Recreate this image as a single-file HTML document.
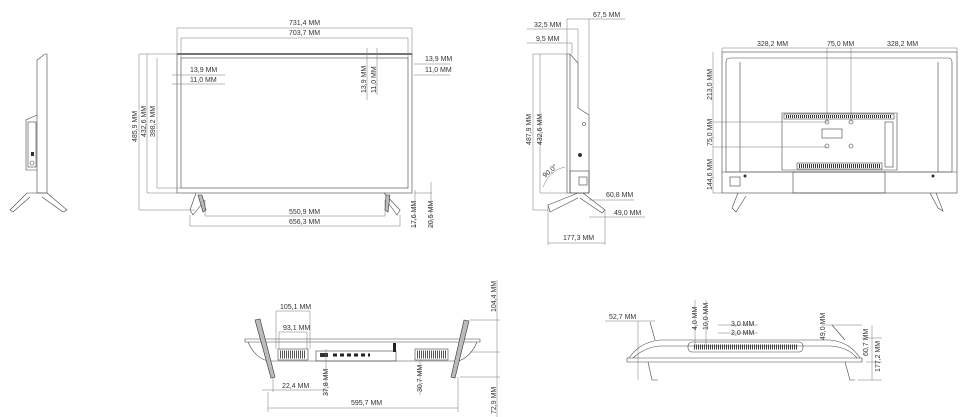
<!DOCTYPE html>
<html><head><meta charset="utf-8"><style>
html,body{margin:0;padding:0;background:#fff;width:980px;height:417px;overflow:hidden}
svg{display:block}
text{font-family:"Liberation Sans Narrow","Liberation Sans",sans-serif;font-size:7px;fill:#333}
.l{stroke:#444;stroke-width:.6;fill:none}
.t{stroke:#222;stroke-width:1.2;fill:none}
.d{stroke:#777;stroke-width:.5;fill:none}
.g{stroke:#333;stroke-width:.6;fill:#bbb}
</style></head><body>
<svg width="980" height="417" viewBox="0 0 980 417" xmlns="http://www.w3.org/2000/svg">
<!-- left side view -->
<path class="l" d="M37,60 L45,54 L47,54 L47,193 L37,193 Z"/>
<path class="l" d="M37,115 L26,120 L26,170 L37,170"/>
<rect class="l" x="28" y="122" width="8" height="45"/>
<rect x="31" y="152" width="3" height="4" fill="#333"/>
<circle class="l" cx="32" cy="163" r="2"/>
<path class="l" d="M27,193 L10,210 L13,212 L30,197 M47,193 L67,210 L63,212 L42,197"/>
<line class="l" x1="27" y1="193" x2="47" y2="193"/>

<!-- front view -->
<rect class="l" x="177" y="54" width="235" height="139"/>
<line class="t" x1="177" y1="54" x2="412" y2="54"/>
<rect class="l" x="181" y="58" width="227" height="130"/>
<path class="l" d="M196,193 L190,210 L193,215 L205,200 M384,193 L400,210 L397,215 L386,200"/>
<path class="g" d="M198,195 L202,195 L206,210 L203,212 Z M386,195 L390,195 L388,212 L385,210 Z"/>
<path class="d" d="M177,28 L412,28 M177,28 L177,54 M412,28 L412,54 M181,38 L408,38 M181,38 L181,58 M408,38 L408,58"/>
<text x="289" y="25">731,4 MM</text><text x="289" y="35">703,7 MM</text>
<path class="d" d="M139,54 L139,210 M139,54 L177,54 M139,210 L195,210 M147,54 L147,193 M147,193 L177,193 M157,58 L157,188 M157,188 L181,188"/>
<text transform="translate(137,142) rotate(-90)">485,9 MM</text>
<text transform="translate(146,137) rotate(-90)">432,6 MM</text>
<text transform="translate(155,137) rotate(-90)">398,2 MM</text>
<path class="d" d="M172,75 L225,75 M172,84 L225,84"/>
<text x="190" y="72">13,9 MM</text><text x="190" y="82">11,0 MM</text>
<path class="d" d="M414,64 L450,64 M414,75 L450,75"/>
<text x="425" y="61">13,9 MM</text><text x="425" y="72">11,0 MM</text>
<path class="d" d="M367,48 L367,100 M377,48 L377,95"/>
<text transform="translate(366,93) rotate(-90)">13,9 MM</text>
<text transform="translate(376,93) rotate(-90)">11,0 MM</text>
<path class="d" d="M205,216 L385,216 M205,200 L205,216 M385,200 L385,216 M190,226 L400,226 M190,215 L190,226 M400,215 L400,226"/>
<text x="289" y="214">550,9 MM</text><text x="289" y="224">656,3 MM</text>
<path class="d" d="M414,193 L432,193 M415,190 L415,228 M431,182 L431,228"/>
<text transform="translate(416,228) rotate(-90)">17,6 MM</text>
<text transform="translate(433,228) rotate(-90)">20,5 MM</text>

<!-- side view right -->
<path class="l" d="M567,54 L570,54 L578,63 L578,108 L589,115 L589,193 L567,193 Z"/>
<line class="l" x1="570" y1="54" x2="570" y2="193"/>
<rect class="l" x="570" y="171" width="19" height="22"/>
<rect class="l" x="579" y="177" width="8" height="8"/>
<circle class="l" cx="584" cy="124" r="1.5"/><circle cx="580" cy="155" r="2" fill="#333"/>
<path class="l" d="M578,193 L548,205 L550,212 L578,198 M583,193 L605,210 L602,213 L580,198"/>
<path class="d" d="M567,19 L625,19 M567,19 L567,54 M589,19 L589,115 M527,29 L578,29 M578,29 L578,63 M527,43 L572,43 M572,43 L572,54"/>
<text x="593" y="17">67,5 MM</text><text x="534" y="27">32,5 MM</text><text x="536" y="41">9,5 MM</text>
<path class="d" d="M533,54 L533,210 M533,54 L567,54 M533,210 L548,210 M540,54 L540,193 M540,193 L567,193"/>
<text transform="translate(531,145) rotate(-90)">487,9 MM</text>
<text transform="translate(542,145) rotate(-90)">432,6 MM</text>
<path class="d" d="M543,187 Q550,170 565,167"/>
<text transform="translate(545,178) rotate(-40)">90,0°</text>
<path class="d" d="M589,200 L634,200 M589,217 L645,217 M605,210 L605,245 M548,205 L548,245 M548,243 L605,243"/>
<text x="606" y="197">60,8 MM</text><text x="614" y="215">49,0 MM</text><text x="563" y="240">177,3 MM</text>

<!-- back view -->
<rect class="l" x="722" y="52" width="235" height="141"/>
<path class="l" d="M726,172 L726,62 Q726,58 730,58 L948,58 Q952,58 952,62 L952,172 M726,172 L952,172"/>
<path class="l" d="M740,62 L740,172 M938,62 L938,172"/>
<path class="l" d="M782,113 L897,113 L897,170 L782,170 Z"/>
<rect class="l" x="784" y="114" width="110" height="5"/>
<path d="M786,116.5 L892,116.5" stroke="#333" stroke-width="3" stroke-dasharray="1,1"/>
<rect class="l" x="797" y="163" width="85" height="6"/>
<path d="M799,166 L880,166" stroke="#333" stroke-width="4" stroke-dasharray="1,1"/>
<rect class="l" x="822" y="129" width="20" height="9"/>
<circle class="l" cx="827" cy="122" r="2"/><circle class="l" cx="851" cy="122" r="2"/>
<circle class="l" cx="827" cy="146" r="2"/><circle class="l" cx="851" cy="146" r="2"/>
<rect class="l" x="885" y="122" width="8" height="45"/>
<line class="l" x1="722" y1="172" x2="957" y2="172"/>
<rect class="l" x="793" y="172" width="92" height="21"/>
<rect class="l" x="730" y="177" width="10" height="9"/>
<circle cx="745" cy="176" r="1.5" fill="#333"/><circle cx="933" cy="176" r="1.5" fill="#333"/>
<path class="l" d="M738,193 L732,208 L736,212 L746,196 M930,193 L938,208 L943,211 L936,193"/>
<path class="d" d="M722,48 L957,48 M722,48 L722,52 M957,48 L957,52 M827,48 L827,122 M851,48 L851,122 M713,52 L713,193 M713,122 L827,122 M713,147 L827,147 M713,193 L722,193"/>
<text x="757" y="46">328,2 MM</text><text x="827" y="46">75,0 MM</text><text x="887" y="46">328,2 MM</text>
<text transform="translate(712,100) rotate(-90)">213,0 MM</text>
<text transform="translate(712,146) rotate(-90)">75,0 MM</text>
<text transform="translate(712,190) rotate(-90)">144,6 MM</text>

<!-- bottom view 1 -->
<path class="l" d="M245,339 L480,339 L480,342 L245,342 Z"/>
<path class="l" d="M248,342 Q255,358 268,361 L458,361 Q470,358 477,342"/>
<rect class="l" x="278" y="349" width="30" height="11"/><rect class="l" x="415" y="349" width="33" height="11"/>
<path d="M280,354.5 L306,354.5 M417,354.5 L446,354.5" stroke="#555" stroke-width="8" stroke-dasharray="1,1"/>
<rect class="l" x="316" y="351" width="80" height="10"/>
<rect x="320" y="353" width="8" height="4" fill="#333"/>
<path d="M333,355 L370,355" stroke="#222" stroke-width="3" stroke-dasharray="4,3"/>
<rect x="393" y="343" width="3" height="9" fill="#222"/>
<path class="g" d="M255,320 L260,319 L275,377 L271,378 Z M464,320 L469,321 L455,378 L451,377 Z"/>
<path class="d" d="M276,311 L310,311 M276,311 L276,349 M310,311 L310,349 M279,332 L307,332 M279,332 L279,349 M307,332 L307,349"/>
<text x="280" y="309">105,1 MM</text><text x="283" y="330">93,1 MM</text>
<path class="d" d="M262,390 L326,390 M273,377 L273,392 M326,349 L326,395 M420,361 L420,395 M268,408 L458,408 M268,392 L268,412 M458,377 L458,412 M470,320 L500,320 M470,352 L500,352 M460,377 L500,377 M497,280 L497,417"/>
<text x="282" y="388">22,4 MM</text>
<text transform="translate(328,396) rotate(-90)">37,8 MM</text>
<text transform="translate(422,392) rotate(-90)">30,7 MM</text>
<text x="351" y="405">595,7 MM</text>
<text transform="translate(496,312) rotate(-90)">104,4 MM</text>
<text transform="translate(496,414) rotate(-90)">72,9 MM</text>

<!-- bottom view 2 -->
<path class="l" d="M627,358 L862,358 L862,362 L627,362 Z"/>
<path class="l" d="M629,358 Q640,342 660,340 L830,340 Q850,342 860,358"/>
<path class="l" d="M633,358 Q645,347 660,346 L830,346 Q848,347 857,358"/>
<rect class="l" x="688" y="342" width="115" height="10" rx="4"/>
<path d="M694,347 L797,347" stroke="#444" stroke-width="5" stroke-dasharray="1,1"/>
<path class="l" d="M650,322 L655,340 M648,362 L652,380 L658,380 M832,325 L845,340 M845,362 L850,380 L855,380"/>
<path class="d" d="M605,321 L655,321 M638,321 L638,380 M695,300 L695,345 M706,300 L706,345 M718,325 L758,325 M718,333 L758,333 M822,325 L862,325 M862,338 L882,338 M866,362 L882,362 M858,380 L882,380 M872,325 L872,380"/>
<text x="609" y="319">52,7 MM</text>
<text transform="translate(697,330) rotate(-90)">4,0 MM</text>
<text transform="translate(708,330) rotate(-90)">10,0 MM</text>
<text x="731" y="326">3,0 MM</text><text x="731" y="335">2,0 MM</text>
<text transform="translate(825,340) rotate(-90)">49,0 MM</text>
<text transform="translate(868,356) rotate(-90)">60,7 MM</text>
<text transform="translate(880,372) rotate(-90)">177,2 MM</text>
</svg>
</body></html>
